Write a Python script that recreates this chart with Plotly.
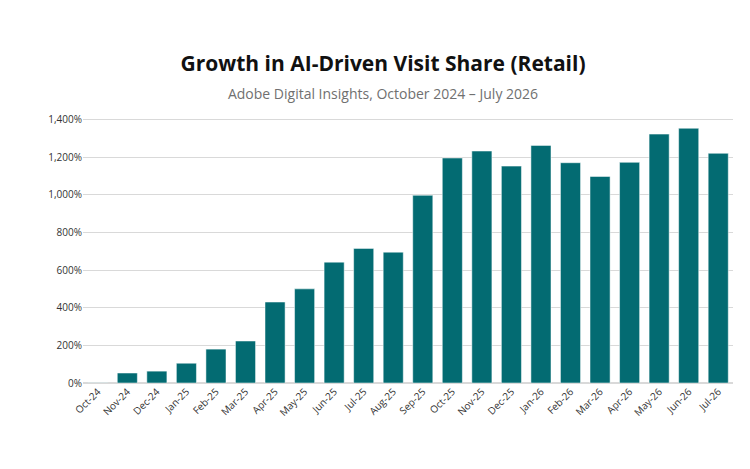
#!/usr/bin/env python3

import pandas as pd
import plotly.graph_objects as go


MONTHS = [
    "Oct-24", "Nov-24", "Dec-24", "Jan-25", "Feb-25", "Mar-25", "Apr-25", "May-25",
    "Jun-25", "Jul-25", "Aug-25", "Sep-25", "Oct-25", "Nov-25", "Dec-25", "Jan-26",
    "Feb-26", "Mar-26", "Apr-26", "May-26", "Jun-26", "Jul-26",
]
GROWTH = [
    1, 53, 63, 105, 180, 223, 430, 500, 642, 715, 695, 997,
    1195, 1232, 1152, 1262, 1170, 1097, 1172, 1322, 1353, 1220,
]


def make_chart(frame: pd.DataFrame) -> go.Figure:
    figure = go.Figure(
        go.Bar(
            x=frame["month"],
            y=frame["growth"],
            marker={"color": "#036b72"},
            width=0.68,
        )
    )

    figure.update_layout(
        title={
            "text": "<b>Growth in AI-Driven Visit Share (Retail)</b><br>"
                    "<span style='font-size:14px;color:#707070'>Adobe Digital Insights, October 2024 – July 2026</span>",
            "x": 0.5,
            "xanchor": "center",
            "y": 0.865,
            "font": {"size": 21, "color": "#111111"},
        },
        template="plotly_white",
        width=750,
        height=469,
        showlegend=False,
        font={"family": "Open Sans, Lato, sans-serif", "color": "#333333", "size": 10},
        margin={"l": 75, "r": 25, "t": 102, "b": 94},
        plot_bgcolor="white",
    )
    figure.update_xaxes(tickangle=-45, showgrid=False, showline=False)
    figure.update_yaxes(
        range=[0, 1450],
        tick0=0,
        dtick=200,
        ticksuffix="%",
        tickformat=",",
        gridcolor="#d9d9d9",
        zeroline=True,
        zerolinecolor="#d9d9d9",
    )
    return figure


def main() -> int:
    frame = pd.DataFrame({"month": MONTHS, "growth": GROWTH})
    figure = make_chart(frame)
    figure.write_html("out.html")
    return 0


if __name__ == "__main__":
    raise SystemExit(main())
